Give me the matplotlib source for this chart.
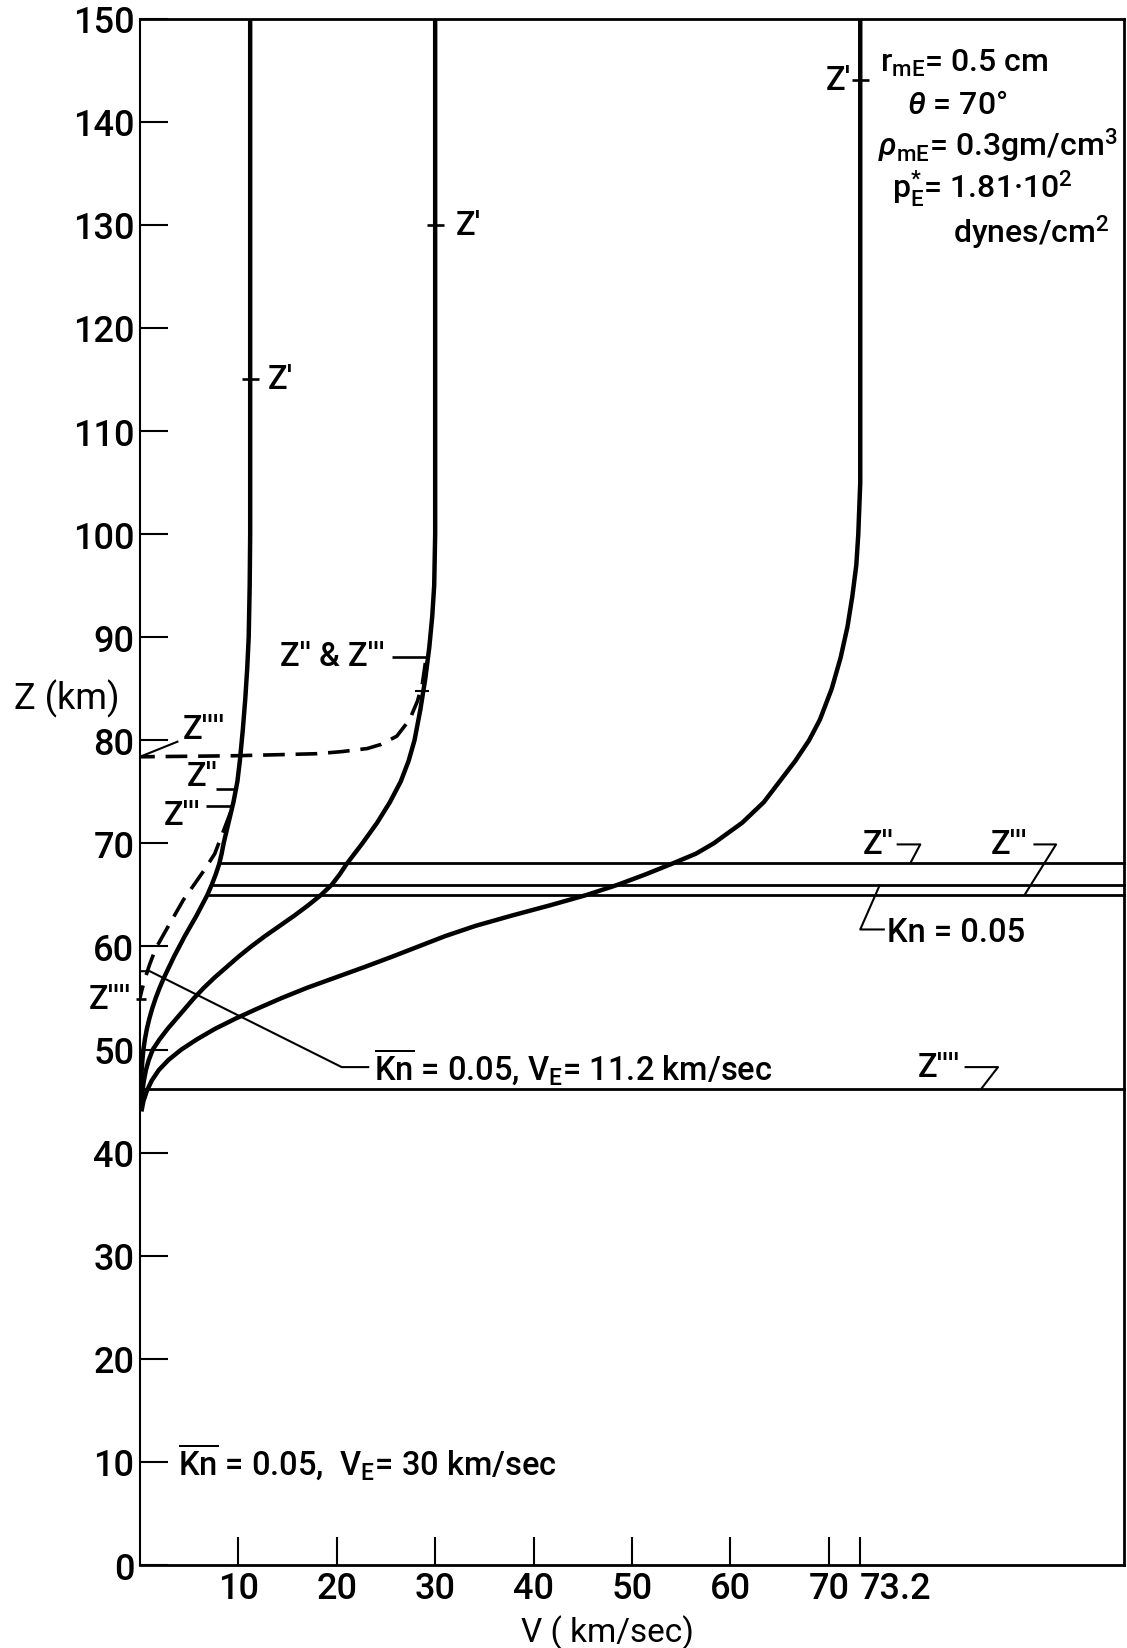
import matplotlib
matplotlib.use("Agg")
import matplotlib.pyplot as plt

plt.rcParams["font.family"] = ["Roboto", "DejaVu Sans"]
plt.rcParams["font.weight"] = "medium"
plt.rcParams["mathtext.fontset"] = "custom"
plt.rcParams["mathtext.rm"] = "Roboto:medium"
plt.rcParams["mathtext.it"] = "Roboto:italic:medium"
plt.rcParams["mathtext.bf"] = "Roboto:bold"

# velocity profiles V(Z), one per entry velocity (km/sec)
v_entry = [11.2, 30.0, 73.2]

z_112 = [150, 100, 95, 90, 87, 84, 81, 78, 76, 74, 72, 70, 69, 68, 67, 66,
         65, 64, 63, 62, 61, 60, 59, 58, 57, 56, 55, 54, 53, 52, 51, 50, 49,
         48, 47, 46.3]
v_112 = [11.2, 11.2, 11.15, 11.05, 10.9, 10.7, 10.45, 10.15, 9.9, 9.5, 9.0,
         8.5, 8.3, 8.05, 7.7, 7.3, 6.85, 6.3, 5.75, 5.15, 4.55, 4.0, 3.45,
         2.95, 2.45, 2.0, 1.6, 1.25, 0.95, 0.7, 0.5, 0.35, 0.25, 0.17, 0.1,
         0.05]

z_30 = [150, 100, 95, 92, 89, 86, 83, 80, 78, 76, 74, 72, 70, 68, 67, 66,
        65, 64, 63, 62, 61, 60, 59, 58, 57, 56, 55, 54, 53, 52, 51, 50, 49,
        48, 47, 46, 45, 44.5]
v_30 = [30.0, 30.0, 29.9, 29.7, 29.4, 29.0, 28.5, 27.9, 27.3, 26.5, 25.4,
        24.1, 22.6, 21.0, 20.3, 19.5, 18.4, 17.1, 15.7, 14.2, 12.7, 11.3,
        10.0, 8.8, 7.6, 6.5, 5.5, 4.6, 3.7, 2.8, 2.0, 1.3, 0.9, 0.6, 0.4,
        0.25, 0.15, 0.1]

z_732 = [150, 105, 100, 97, 94, 91, 88, 85, 82, 80, 78, 76, 74, 72, 70, 69,
         68, 67, 66, 65, 64, 63, 62, 61, 60, 59, 58, 57, 56, 55, 54, 53, 52,
         51, 50, 49, 48, 47, 46, 45, 44]
v_732 = [73.2, 73.2, 73.0, 72.8, 72.4, 71.9, 71.2, 70.3, 69.1, 68.0, 66.6,
         65.0, 63.4, 61.2, 58.3, 56.5, 54.0, 51.4, 48.6, 45.4, 41.7, 37.8,
         34.1, 31.0, 28.3, 25.6, 22.8, 19.9, 17.0, 14.4, 12.0, 9.7, 7.6, 5.8,
         4.2, 2.9, 1.9, 1.2, 0.7, 0.35, 0.15]

# Z' altitude on each profile
z_prime = [115.0, 130.0, 144.0]

# Z'''' branches (dashed)
z_4a = [87.5, 85.5, 83.8, 82.0, 80.4, 79.6, 79.2, 78.9, 78.7, 78.6, 78.5,
        78.45, 78.4]
v_4a = [29.0, 28.7, 28.2, 27.4, 26.1, 24.5, 23.1, 20.5, 18.0, 14.0, 9.5,
        5.0, 0.0]
z_4b = [73.0, 71.0, 69.0, 67.5, 66.0, 64.5, 63.0, 61.5, 59.8, 58.3, 57.0,
        55.8, 55.0]
v_4b = [9.2, 8.4, 7.6, 6.6, 5.5, 4.4, 3.5, 2.6, 1.6, 1.0, 0.55, 0.2, 0.0]

# horizontal levels: Z'', Kn = 0.05, Z''' and Z'''' (V_E = 73.2)
h_levels = [68.1, 66.0, 65.0, 46.2]
h_start = [8.2, 7.4, 6.9, 0.2]

x_ticks = [10, 20, 30, 40, 50, 60, 70, 73.2]
x_ticklabels = ["10", "20", "30", "40", "50", "60", "70", "73.2"]
y_ticks = list(range(0, 151, 10))

K = "black"
FS = 23.5

fig = plt.figure(figsize=(11.27, 16.49), dpi=100)
ax = fig.add_axes([0.1242, 0.0503, 0.8731, 0.9378])
ax.set_xlim(0, 100)
ax.set_ylim(0, 150)

for side in ["top", "right", "bottom"]:
    ax.spines[side].set_linewidth(2.0)
ax.spines["left"].set_linewidth(1.5)

ax.set_xticks(x_ticks)
ax.set_xticklabels(x_ticklabels)
ax.get_xticklabels()[-1].set_horizontalalignment("left")
ax.set_yticks(y_ticks)
ax.tick_params(axis="both", direction="in", length=20, width=1.5,
               labelsize=26, top=False, right=False)
ax.tick_params(axis="x", pad=4)
ax.tick_params(axis="y", pad=4)

ax.set_ylabel("Z (km)", fontsize=26, rotation=0)
ax.yaxis.set_label_coords(-0.074, 0.561)
ax.yaxis.label.set_va("center")
ax.set_xlabel("V ( km/sec)", fontsize=24)
ax.xaxis.set_label_coords(0.4746, -0.0433)
ax.xaxis.label.set_va("center")

# main profiles
for v, z in [(v_112, z_112), (v_30, z_30), (v_732, z_732)]:
    ax.plot(v, z, color=K, lw=3.2, solid_capstyle="butt",
            solid_joinstyle="round")

# dashed Z'''' branches
for v, z in [(v_4a, z_4a), (v_4b, z_4b)]:
    ax.plot(v, z, color=K, lw=2.6, dashes=(6.0, 3.0))

# horizontal altitude lines
for z, v0 in zip(h_levels, h_start):
    ax.plot([v0, 100], [z, z], color=K, lw=2.0, clip_on=False)

def leader(vs, zs, lw=1.5):
    ax.plot(vs, zs, color=K, lw=lw, clip_on=False, solid_capstyle="butt")

# Z' marks and labels
for ve, zp in zip(v_entry, z_prime):
    leader([ve - 0.85, ve + 0.85], [zp, zp], lw=1.9)
ax.text(v_entry[0] + 1.8, z_prime[0], "Z'", fontsize=FS, va="center", ha="left")
ax.text(v_entry[1] + 2.1, z_prime[1], "Z'", fontsize=FS, va="center", ha="left")
ax.text(v_entry[2] - 0.9, z_prime[2], "Z'", fontsize=FS, va="center", ha="right")

# Z'' & Z''' on the 30 km/sec profile
leader([25.6, 29.3], [88.1, 88.1], lw=1.9)
ax.text(24.9, 88.2, "Z'' & Z'''", fontsize=FS, va="center", ha="right")
leader([28.0, 29.4], [84.8, 84.8], lw=1.5)

# labels on the 11.2 km/sec profile
leader([0.0, 3.9], [78.4, 79.9])
ax.text(4.3, 81.1, "Z''''", fontsize=FS, va="center", ha="left")
leader([7.7, 9.7], [75.3, 75.3], lw=1.9)
ax.text(4.8, 76.5, "Z''", fontsize=FS, va="center", ha="left")
leader([6.7, 9.3], [73.6, 73.6], lw=1.9)
ax.text(2.4, 72.8, "Z'''", fontsize=FS, va="center", ha="left")
leader([-0.4, 0.6], [54.9, 54.9], lw=1.9)
ax.text(-0.9, 54.9, "Z''''", fontsize=FS, va="center", ha="right")

# Kn = 0.05 annotations
leader([0.0, 1.0, 20.5, 23.3], [57.6, 57.6, 48.3, 48.3])
ax.text(23.8, 47.2,
        r"$\overline{\mathrm{Kn}}$ = 0.05, V$_\mathrm{E}$= 11.2 km/sec",
        fontsize=FS, va="baseline", ha="left")
ax.text(3.9, 8.9,
        r"$\overline{\mathrm{Kn}}$ = 0.05,  V$_\mathrm{E}$= 30 km/sec",
        fontsize=FS, va="baseline", ha="left")

# labels of the horizontal levels
leader([76.9, 79.3, 78.3], [69.9, 69.9, 68.1])
ax.text(75.0, 69.95, "Z''", fontsize=FS, va="center", ha="center")
leader([90.8, 93.1, 89.9], [69.9, 69.9, 65.0])
ax.text(88.3, 69.95, "Z'''", fontsize=FS, va="center", ha="center")
leader([75.7, 73.2, 75.2], [61.65, 61.65, 66.0])
ax.text(75.9, 60.5, "Kn = 0.05", fontsize=FS, va="baseline", ha="left")
leader([83.8, 87.2, 85.5], [48.3, 48.3, 46.2])
ax.text(81.2, 48.3, "Z''''", fontsize=FS, va="center", ha="center")

# parameter block
PS = 23
ax.text(75.2, 144.9, r"r$_\mathrm{mE}$= 0.5 cm", fontsize=PS, va="baseline")
ax.text(78.0, 140.8, r"$\theta$ = 70°", fontsize=PS, va="baseline")
ax.text(75.0, 136.7, r"$\rho_\mathrm{mE}$= 0.3gm/cm$^3$", fontsize=PS,
        va="baseline")
ax.text(76.4, 132.7, r"p$^{*}_\mathrm{E}$= 1.81·10$^2$", fontsize=PS,
        va="baseline")
ax.text(82.6, 128.3, r"dynes/cm$^2$", fontsize=PS, va="baseline")

fig.savefig("out.png", dpi=100)
